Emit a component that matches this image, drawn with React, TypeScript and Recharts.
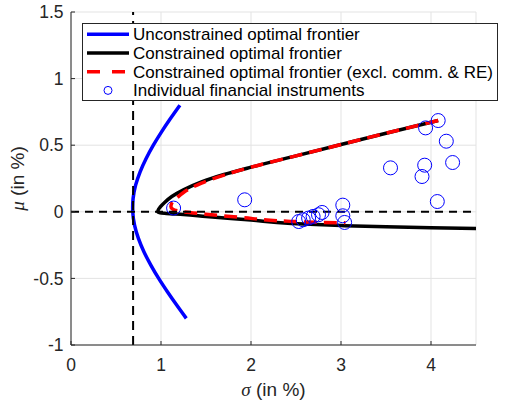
import React from 'react';
import {
  ComposedChart,
  Line,
  Scatter,
  XAxis,
  YAxis,
  CartesianGrid,
  ReferenceLine,
  Legend,
} from 'recharts';

// ---- data ----
const xTicks = [0, 1, 2, 3, 4];
const yTicks = [-1, -0.5, 0, 0.5, 1, 1.5];

const legendLabels = [
  'Unconstrained optimal frontier',
  'Constrained optimal frontier',
  'Constrained optimal frontier (excl. comm. & RE)',
  'Individual financial instruments',
];

// unconstrained frontier (sigma, mu)
const unconstrainedSigma = [1.21, 1.105, 1.006, 0.915, 0.835, 0.768, 0.718, 0.69, 0.685, 0.686, 0.706, 0.749, 0.81, 0.887, 0.974, 1.071, 1.174, 1.281];
const unconstrainedMu = [0.8, 0.7, 0.6, 0.5, 0.4, 0.3, 0.2, 0.1, 0.033, 0.0, -0.1, -0.2, -0.3, -0.4, -0.5, -0.6, -0.7, -0.8];

// constrained frontier
const constrainedSigma = [4.08, 3.5, 3.0, 2.5, 2.0, 1.7, 1.45, 1.25, 1.12, 1.04, 0.99, 0.968, 0.965, 0.99, 1.06, 1.25, 1.5, 2.0, 2.45, 3.0, 3.5, 4.0, 4.5];
const constrainedMu = [0.685, 0.59, 0.505, 0.42, 0.335, 0.28, 0.225, 0.165, 0.115, 0.07, 0.035, 0.012, 0.0, -0.008, -0.012, -0.02, -0.035, -0.062, -0.088, -0.103, -0.113, -0.12, -0.125];

// constrained frontier excluding commodities & real estate
const exclSigma = [4.08, 3.5, 3.0, 2.5, 2.0, 1.7, 1.45, 1.25, 1.17, 1.12, 1.11, 1.13, 1.2, 1.5, 1.9, 2.4, 2.8, 3.05];
const exclMu = [0.685, 0.59, 0.505, 0.42, 0.335, 0.275, 0.215, 0.145, 0.1, 0.065, 0.04, 0.02, 0.005, -0.018, -0.043, -0.07, -0.08, -0.082];

// individual instruments
const instrSigma = [1.14, 1.93, 2.53, 2.58, 2.64, 2.69, 2.75, 2.79, 3.02, 3.02, 3.04, 3.55, 3.93, 3.9, 4.24, 4.17, 3.94, 4.08, 4.07];
const instrMu = [0.028, 0.09, -0.073, -0.06, -0.047, -0.035, -0.022, -0.005, 0.05, -0.03, -0.08, 0.33, 0.35, 0.265, 0.37, 0.53, 0.63, 0.685, 0.077];

const gmvSigma = 0.69;

const zip = (xs: number[], ys: number[]) => xs.map((x, i) => ({ x, y: ys[i] }));
const unconstrained = zip(unconstrainedSigma, unconstrainedMu);
const constrained = zip(constrainedSigma, constrainedMu);
const excl = zip(exclSigma, exclMu);
const instruments = zip(instrSigma, instrMu);

const FONT = '"Liberation Sans", Arial, Helvetica, sans-serif';
const AXIS_COLOR = '#262626';
const BLUE = '#0000ff';
const RED = '#ff0000';

const tickStyle = { fontFamily: FONT, fontSize: 17.5, fill: AXIS_COLOR };

const renderLegend = () => {
  const rowH = 18.7;
  return (
    <svg width={416} height={78} style={{ display: 'block' }}>
      <rect x={0.5} y={0.5} width={415} height={77} fill="#ffffff" stroke={AXIS_COLOR} strokeWidth={1} />
      {legendLabels.map((label, i) => {
        const cy = 11.3 + i * rowH;
        let marker: React.ReactNode = null;
        if (i === 0) marker = <line x1={5} x2={47} y1={cy} y2={cy} stroke={BLUE} strokeWidth={3.5} />;
        if (i === 1) marker = <line x1={5} x2={47} y1={cy} y2={cy} stroke="#000000" strokeWidth={3.5} />;
        if (i === 2) marker = <line x1={5} x2={47} y1={cy} y2={cy} stroke={RED} strokeWidth={3.5} strokeDasharray="13 12" />;
        if (i === 3) marker = <circle cx={26} cy={cy} r={4} fill="none" stroke={BLUE} strokeWidth={1} />;
        return (
          <g key={label}>
            {marker}
            <text x={51} y={cy} dy="0.35em" fontFamily={FONT} fontSize={17} fill="#000000">
              {label}
            </text>
          </g>
        );
      })}
    </svg>
  );
};

const XLabel = (props: any) => {
  const vb = props.viewBox || { x: 71, y: 345, width: 405, height: 30 };
  return (
    <text x={vb.x + vb.width / 2} y={396} textAnchor="middle" fontFamily={FONT} fontSize={19} fill={AXIS_COLOR}>
      <tspan fontFamily='"Liberation Serif", "DejaVu Serif", serif' fontStyle="italic">σ</tspan>
      <tspan> (in %)</tspan>
    </text>
  );
};

const YLabel = (props: any) => {
  const vb = props.viewBox || { x: 0, y: 12, width: 71, height: 333 };
  const cx = 24;
  const cy = vb.y + vb.height / 2;
  return (
    <text x={cx} y={cy} transform={`rotate(-90 ${cx} ${cy})`} textAnchor="middle" fontFamily={FONT} fontSize={19} fill={AXIS_COLOR}>
      <tspan fontFamily='"Liberation Serif", "DejaVu Serif", serif' fontStyle="italic">μ</tspan>
      <tspan> (in %)</tspan>
    </text>
  );
};

const CircleShape = (props: any) => {
  const { cx, cy } = props;
  if (cx == null || cy == null) return null;
  return <circle cx={cx} cy={cy} r={7} fill="none" stroke={BLUE} strokeWidth={1} />;
};

export default function App() {
  return (
    <div style={{ position: 'absolute', left: 0, top: 0, background: '#ffffff' }}>
      <ComposedChart width={507} height={405} margin={{ top: 12, right: 31, bottom: 30, left: 0 }}>
        <CartesianGrid stroke="#e3e3e3" strokeWidth={1} />
        <XAxis
          type="number"
          dataKey="x"
          domain={[0, 4.5]}
          ticks={xTicks}
          allowDataOverflow
          height={30}
          tick={tickStyle}
          tickSize={-4}
          tickMargin={17.5}
          axisLine={{ stroke: AXIS_COLOR }}
          tickLine={{ stroke: AXIS_COLOR }}
          label={{ content: XLabel }}
        />
        <YAxis
          type="number"
          dataKey="y"
          domain={[-1, 1.5]}
          ticks={yTicks}
          allowDataOverflow
          width={71}
          tick={tickStyle}
          tickSize={-4}
          tickMargin={11.5}
          axisLine={{ stroke: AXIS_COLOR }}
          tickLine={{ stroke: AXIS_COLOR }}
          label={{ content: YLabel }}
        />
        <Line data={unconstrained} dataKey="y" type="monotoneY" stroke={BLUE} strokeWidth={3.5} dot={false} isAnimationActive={false} legendType="none" />
        <Line data={constrained} dataKey="y" type="monotoneY" stroke="#000000" strokeWidth={3.5} dot={false} isAnimationActive={false} legendType="none" />
        <Line data={excl} dataKey="y" type="monotoneY" stroke={RED} strokeWidth={3.5} strokeDasharray="13 7" dot={false} isAnimationActive={false} legendType="none" />
        <ReferenceLine y={0} stroke="#000000" strokeWidth={2} strokeDasharray="8 6" />
        <ReferenceLine x={gmvSigma} stroke="#000000" strokeWidth={2} strokeDasharray="9 6" />
        <Scatter data={instruments} dataKey="y" shape={CircleShape} isAnimationActive={false} legendType="none" />
        <Legend
          layout="vertical"
          align="center"
          verticalAlign="middle"
          content={renderLegend}
          wrapperStyle={{ left: 82, top: 23, width: 416, height: 78, right: 'auto', bottom: 'auto' }}
        />
      </ComposedChart>
    </div>
  );
}
